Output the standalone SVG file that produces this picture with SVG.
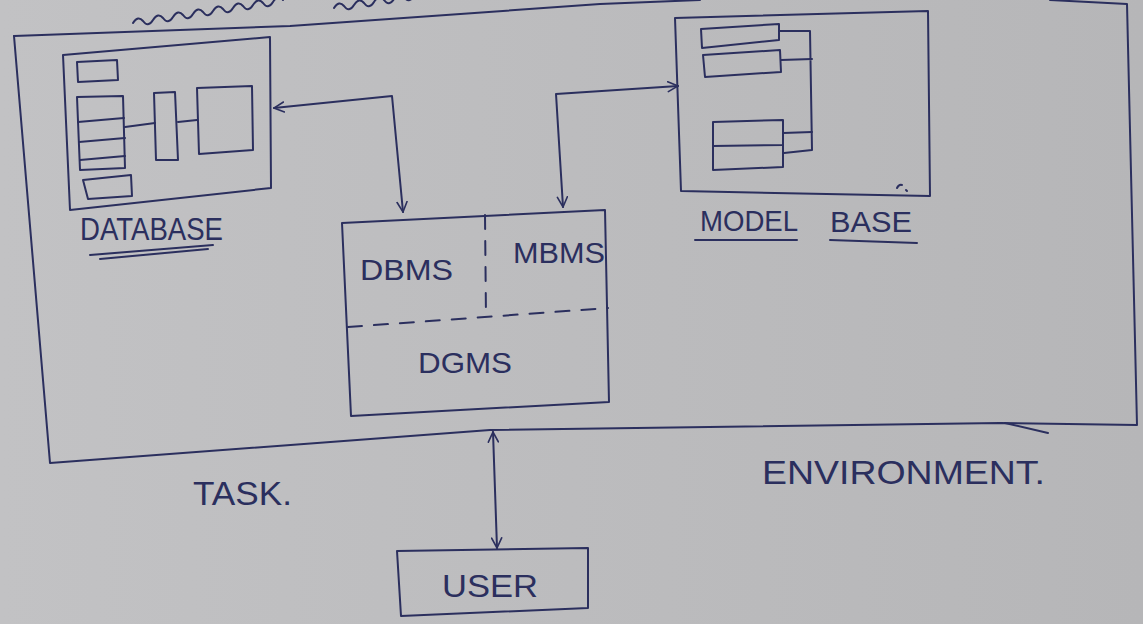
<svg xmlns="http://www.w3.org/2000/svg" width="1143" height="624" viewBox="0 0 1143 624">
<style>
.ink{fill:none;stroke:#2b2f5e;stroke-width:2;stroke-linecap:round;stroke-linejoin:round}
.dash{fill:none;stroke:#2b2f5e;stroke-width:2;stroke-dasharray:14 12;stroke-linecap:round}
.t{font-family:"Liberation Sans","DejaVu Sans",sans-serif;fill:#2b2f5e;font-weight:normal}
</style>
<defs>
<marker id="ah" viewBox="0 0 12 12" refX="11" refY="6" markerWidth="12" markerHeight="12" markerUnits="userSpaceOnUse" orient="auto-start-reverse">
<path d="M1,1 L11,6 L1,11" fill="none" stroke="#2b2f5e" stroke-width="1.6" stroke-linecap="round"/>
</marker>
<linearGradient id="paper" x1="0" y1="0" x2="1" y2="0">
<stop offset="0" stop-color="#c2c2c4"/>
<stop offset="1" stop-color="#b6b6b8"/>
</linearGradient>
</defs>
<rect width="1143" height="624" fill="url(#paper)"/>

<g id="top-marks">
<path class="ink" d="M133,23 q5,-8 10,-2 q5,7 10,-1 q5,-8 10,-2 q5,7 10,-1 q5,-8 10,-2 q5,7 10,-1 q5,-8 10,-2 q5,7 10,-1 q5,-8 10,-2 q5,7 10,-1 q5,-8 10,-2 q5,7 10,-1 q5,-8 10,-2 q5,7 10,-1 q5,-8 10,-2"/>
<path class="ink" d="M334,8 q5,-8 10,-2 q5,7 10,-1 q5,-8 10,-2 q5,7 10,-1 q5,-8 10,-2 q5,7 10,-1 q5,-8 10,-2 q5,7 10,-1 q5,-8 10,-2 q5,7 10,-1"/>
</g>

<g id="environment-frame">
<path class="ink" d="M14,36 L290,26 L600,4 L700,0"/>
<path class="ink" d="M1050,0 L1127,4 L1137,425 L1000,423 L490,430 L50,463 L14,36"/>
<path class="ink" d="M1005,423 L1048,433"/>
</g>

<g id="database">
<polygon class="ink" points="63,55 270,37 271,188 70,210"/>
<polygon class="ink" points="77,62 117,60 118,80 78,82"/>
<polygon class="ink" points="77,97 123,96 125,168 80,170"/>
<path class="ink" d="M78,122 L124,118 M79,142 L125,138 M80,160 L125,156"/>
<polygon class="ink" points="83,180 131,175 132,196 88,199"/>
<path class="ink" d="M125,127 L155,123"/>
<polygon class="ink" points="154,93 175,92 178,160 156,160"/>
<path class="ink" d="M178,122 L197,120"/>
<polygon class="ink" points="197,88 252,86 253,150 199,154"/>
<text class="t" x="80" y="240" font-size="31" textLength="143" lengthAdjust="spacingAndGlyphs">DATABASE</text>
<path class="ink" d="M90,255 L213,245 M100,259 L208,249"/>
</g>

<g id="model-base">
<polygon class="ink" points="675,18 928,11 930,196 681,191"/>
<polygon class="ink" points="701,29 779,24 779,40 702,48"/>
<polygon class="ink" points="703,55 780,50 781,72 705,77"/>
<path class="ink" d="M779,31 L810,31 L812,150 L784,153 M781,60 L812,59"/>
<polygon class="ink" points="713,122 783,120 783,145 713,146"/>
<path class="ink" d="M713,146 L713,170 L783,167 L783,145 M783,133 L812,132"/>
<path class="ink" d="M897,188 q2,-4 5,-3 M906,190 L907,191"/>
<text class="t" x="700" y="231" font-size="30" textLength="98" lengthAdjust="spacingAndGlyphs">MODEL</text>
<text class="t" x="830" y="232" font-size="30" textLength="82" lengthAdjust="spacingAndGlyphs">BASE</text>
<path class="ink" d="M695,240 L797,240 M830,240 L917,243"/>
</g>

<g id="management-box">
<polygon class="ink" points="342,223 605,210 609,402 351,416"/>
<path class="dash" d="M485,215 L486,317"/>
<path class="dash" d="M348,327 L608,308"/>
<text class="t" x="360" y="280" font-size="30" textLength="93" lengthAdjust="spacingAndGlyphs">DBMS</text>
<text class="t" x="513" y="263" font-size="30" textLength="92" lengthAdjust="spacingAndGlyphs">MBMS</text>
<text class="t" x="418" y="373" font-size="30" textLength="94" lengthAdjust="spacingAndGlyphs">DGMS</text>
</g>

<g id="user">
<polygon class="ink" points="397,551 588,548 588,608 401,616"/>
<text class="t" x="442" y="597" font-size="31" textLength="96" lengthAdjust="spacingAndGlyphs">USER</text>
</g>

<g id="labels">
<text class="t" x="193" y="505" font-size="33" textLength="99" lengthAdjust="spacingAndGlyphs">TASK.</text>
<text class="t" x="762" y="484" font-size="33" textLength="283" lengthAdjust="spacingAndGlyphs">ENVIRONMENT.</text>
</g>

<g id="connectors">
<path class="ink" d="M274,108 L392,96 L403,212" marker-start="url(#ah)" marker-end="url(#ah)"/>
<path class="ink" d="M678,86 L556,94 L563,207" marker-start="url(#ah)" marker-end="url(#ah)"/>
<path class="ink" d="M493,432 L497,548" marker-start="url(#ah)" marker-end="url(#ah)"/>
</g>
</svg>
